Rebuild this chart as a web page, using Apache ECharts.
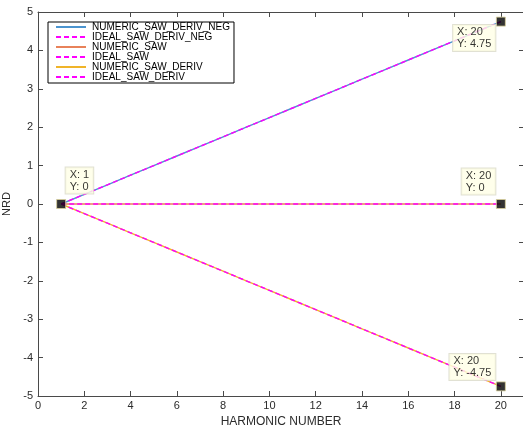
<!DOCTYPE html>
<html>
<head>
<meta charset="utf-8">
<script src="https://cdn.jsdelivr.net/npm/echarts@6/dist/echarts.min.js"></script>
<style>
  html, body { margin: 0; padding: 0; background: #fff; }
  #chart { width: 523px; height: 425px; }
</style>
</head>
<body>
<div id="chart"></div>
<script>
// Harmonic numbers on the x axis
const harmonics = [1, 2, 3, 4, 5, 6, 7, 8, 9, 10, 11, 12, 13, 14, 15, 16, 17, 18, 19, 20];

// NRD values per series
const numericSawDerivNeg = [0, 0.25, 0.5, 0.75, 1, 1.25, 1.5, 1.75, 2, 2.25, 2.5, 2.75, 3, 3.25, 3.5, 3.75, 4, 4.25, 4.5, 4.75];
const idealSawDerivNeg   = [0, 0.25, 0.5, 0.75, 1, 1.25, 1.5, 1.75, 2, 2.25, 2.5, 2.75, 3, 3.25, 3.5, 3.75, 4, 4.25, 4.5, 4.75];
const numericSaw         = [0, 0, 0, 0, 0, 0, 0, 0, 0, 0, 0, 0, 0, 0, 0, 0, 0, 0, 0, 0];
const idealSaw           = [0, 0, 0, 0, 0, 0, 0, 0, 0, 0, 0, 0, 0, 0, 0, 0, 0, 0, 0, 0];
const numericSawDeriv    = [0, -0.25, -0.5, -0.75, -1, -1.25, -1.5, -1.75, -2, -2.25, -2.5, -2.75, -3, -3.25, -3.5, -3.75, -4, -4.25, -4.5, -4.75];
const idealSawDeriv      = [0, -0.25, -0.5, -0.75, -1, -1.25, -1.5, -1.75, -2, -2.25, -2.5, -2.75, -3, -3.25, -3.5, -3.75, -4, -4.25, -4.5, -4.75];

// Data tip markers
const tipX = [1, 20, 20, 20];
const tipY = [0, 4.75, 0, -4.75];

// Axis ticks
const xTicks = [0, 2, 4, 6, 8, 10, 12, 14, 16, 18, 20];
const yTicks = [-5, -4, -3, -2, -1, 0, 1, 2, 3, 4, 5];

const FONT = 'Liberation Sans, Arial, Helvetica, sans-serif';
const AXIS_COLOR = '#4a4a4a';
const TEXT_COLOR = '#2b2b2b';

// Where each data tip box sits relative to its marker (symbol box is 9x9)
const tipLabelPlacement = [
  { position: [9.5, -5.5], align: 'left',  verticalAlign: 'bottom' },
  { position: [-0.5, 8.5], align: 'right', verticalAlign: 'top' },
  { position: [-0.5, -4.5], align: 'right', verticalAlign: 'bottom' },
  { position: [-0.5, -1.5], align: 'right', verticalAlign: 'bottom' }
];

function pairs(xs, ys) { return xs.map((x, i) => [x, ys[i]]); }

function lineSeries(name, values, color, dashed) {
  return {
    name: name,
    type: 'line',
    data: pairs(harmonics, values),
    symbol: 'none',
    showSymbol: false,
    animation: false,
    lineStyle: {
      color: color,
      width: 1.4,
      type: dashed ? [5, 3] : 'solid'
    },
    itemStyle: { color: color }
  };
}

const tipData = tipX.map((x, i) => ({
  value: [x, tipY[i]],
  label: Object.assign({}, tipLabelPlacement[i])
}));

const chart = echarts.init(document.getElementById('chart'), null, { renderer: 'canvas' });

const tickStyle = { show: true, inside: true, length: 5, lineStyle: { color: AXIS_COLOR } };
const lineStyleAxis = { show: true, onZero: false, lineStyle: { color: AXIS_COLOR, width: 1 } };

chart.setOption({
  animation: false,
  backgroundColor: '#ffffff',
  textStyle: { fontFamily: FONT },
  // plot box runs to the right edge of the canvas
  grid: { left: 38, top: 12, width: 486, bottom: 29, containLabel: false, outerBoundsMode: 'none' },
  legend: {
    orient: 'vertical',
    left: 48,
    top: 22,
    padding: [0, 4, 1, 7],
    itemWidth: 30,
    itemHeight: 8,
    itemGap: 0,
    backgroundColor: '#ffffff',
    borderColor: '#000000',
    borderWidth: 1,
    borderRadius: 0,
    itemStyle: { opacity: 0 },
    textStyle: { fontSize: 10, color: '#000', fontFamily: FONT, lineHeight: 10, padding: [0, 0, 0, 1] },
    data: ['NUMERIC_SAW_DERIV_NEG', 'IDEAL_SAW_DERIV_NEG', 'NUMERIC_SAW', 'IDEAL_SAW', 'NUMERIC_SAW_DERIV', 'IDEAL_SAW_DERIV']
  },
  xAxis: [
    {
      type: 'value',
      min: 0, max: 21, interval: 2,
      name: 'HARMONIC NUMBER',
      nameLocation: 'middle',
      nameGap: 16,
      nameTextStyle: { fontSize: 12, color: TEXT_COLOR, fontFamily: FONT },
      axisLine: lineStyleAxis,
      axisTick: Object.assign({}, tickStyle, { customValues: xTicks }),
      axisLabel: { fontSize: 11, color: TEXT_COLOR, margin: 4, fontFamily: FONT, customValues: xTicks },
      splitLine: { show: false }
    },
    {
      type: 'value',
      position: 'top',
      min: 0, max: 21, interval: 2,
      axisLine: lineStyleAxis,
      axisTick: Object.assign({}, tickStyle, { customValues: xTicks }),
      axisLabel: { show: false },
      splitLine: { show: false }
    }
  ],
  yAxis: [
    {
      type: 'value',
      min: -5, max: 5, interval: 1,
      name: 'NRD',
      nameLocation: 'middle',
      nameGap: 19,
      nameTextStyle: { fontSize: 11, color: TEXT_COLOR, fontFamily: FONT },
      axisLine: lineStyleAxis,
      axisTick: Object.assign({}, tickStyle, { customValues: yTicks }),
      axisLabel: { fontSize: 11, color: TEXT_COLOR, margin: 5, fontFamily: FONT, customValues: yTicks },
      splitLine: { show: false }
    },
    {
      type: 'value',
      position: 'right',
      min: -5, max: 5, interval: 1,
      // the right side line sits at the canvas edge; only its inward ticks show
      axisLine: { show: true, onZero: false, lineStyle: { color: AXIS_COLOR, width: 1, opacity: 0 } },
      axisTick: Object.assign({}, tickStyle, { customValues: yTicks }),
      axisLabel: { show: false },
      splitLine: { show: false }
    }
  ],
  series: [
    lineSeries('NUMERIC_SAW_DERIV_NEG', numericSawDerivNeg, '#4b94cf', false),
    lineSeries('NUMERIC_SAW', numericSaw, '#e8825a', false),
    lineSeries('NUMERIC_SAW_DERIV', numericSawDeriv, '#f0b429', false),
    lineSeries('IDEAL_SAW_DERIV_NEG', idealSawDerivNeg, '#ff00ff', true),
    lineSeries('IDEAL_SAW', idealSaw, '#ff00ff', true),
    lineSeries('IDEAL_SAW_DERIV', idealSawDeriv, '#ff00ff', true),
    {
      name: 'datatips',
      type: 'scatter',
      data: tipData,
      symbol: 'rect',
      symbolSize: 9,
      animation: false,
      z: 10,
      itemStyle: { color: '#000000', borderColor: '#d8d09a', borderWidth: 1 },
      label: {
        show: true,
        formatter: (p) => '{t|X: ' + p.value[0] + '}\n{t|Y: ' + p.value[1] + '}',
        rich: { t: { align: 'left', fontSize: 11, lineHeight: 12, color: '#000', fontFamily: FONT } },
        fontSize: 11,
        lineHeight: 12,
        color: '#000',
        fontFamily: FONT,
        backgroundColor: '#ffffe6',
        borderColor: '#d9d9c8',
        borderWidth: 1,
        padding: [1, 4, 1, 4]
      },
      emphasis: { disabled: true },
      tooltip: { show: false }
    }
  ]
});
</script>
</body>
</html>
